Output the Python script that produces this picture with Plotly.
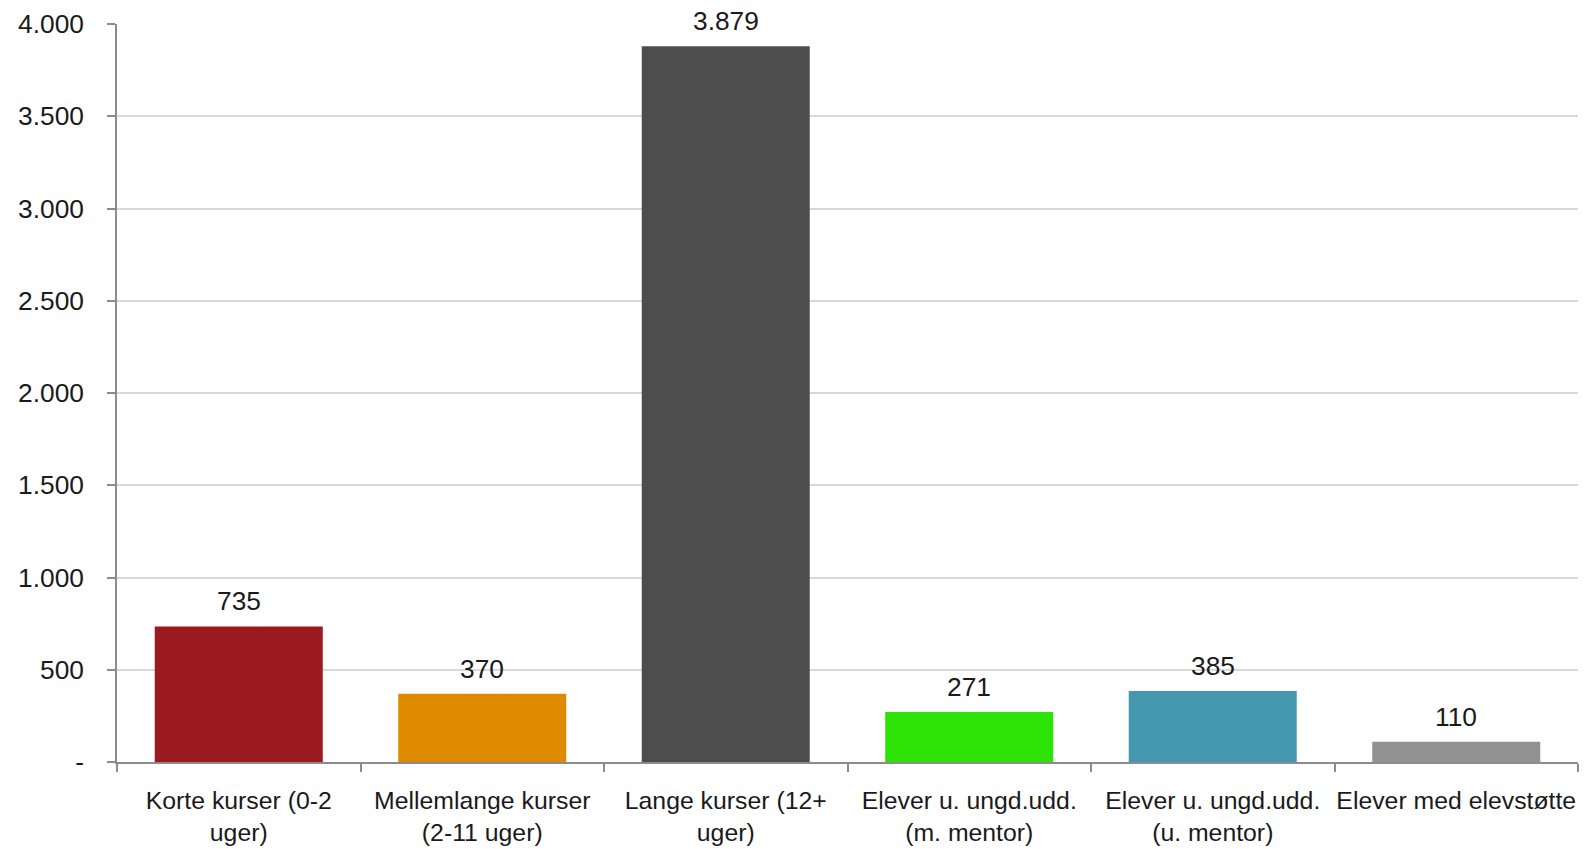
import plotly.graph_objects as go

categories = [
    "Korte kurser (0-2<br>uger)",
    "Mellemlange kurser<br>(2-11 uger)",
    "Lange kurser (12+<br>uger)",
    "Elever u. ungd.udd.<br>(m. mentor)",
    "Elever u. ungd.udd.<br>(u. mentor)",
    "Elever med elevstøtte",
]
values = [735, 370, 3879, 271, 385, 110]
labels = ["735", "370", "3.879", "271", "385", "110"]
colors = ["#9B1A20", "#E08A00", "#4D4D4D", "#2DE305", "#4398B0", "#929292"]
y_tickvals = [0, 500, 1000, 1500, 2000, 2500, 3000, 3500, 4000]
y_ticktext = ["-", "500", "1.000", "1.500", "2.000", "2.500", "3.000", "3.500", "4.000"]

K = 1.0127  # compensates the capture scaling
font_family = "Liberation Sans, Arial, sans-serif"
txt_color = "#1a1a1a"

fig = go.Figure(
    go.Bar(
        x=categories,
        y=values,
        marker=dict(color=colors, line=dict(width=0)),
        hoverinfo="x+y",
    )
)

for c, v, lab in zip(categories, values, labels):
    fig.add_annotation(
        x=c, y=v, text=lab, showarrow=False,
        yanchor="bottom", yshift=8 * K,
        font=dict(size=26 * K, color=txt_color, family=font_family),
    )

fig.update_layout(
    width=round(1588 * K),
    height=round(849 * K),
    margin=dict(l=116 * K, r=30 * K, t=24 * K, b=97 * K, autoexpand=False),
    paper_bgcolor="white",
    plot_bgcolor="white",
    separators=",.",
    bargap=0.31,
    showlegend=False,
    font=dict(family=font_family, size=25 * K, color=txt_color),
)

fig.update_yaxes(
    range=[0, 4000],
    tickvals=y_tickvals,
    ticktext=y_ticktext,
    automargin=False,
    showgrid=True,
    gridcolor="#D9D9D9",
    gridwidth=1.5,
    showline=True,
    linecolor="#8C8C8C",
    linewidth=1.5,
    ticks="outside",
    ticklen=8,
    tickcolor="#8C8C8C",
    tickwidth=1.5,
    ticklabelstandoff=18,
    tickfont=dict(size=26 * K, color=txt_color),
    zeroline=False,
)

fig.update_xaxes(
    automargin=False,
    tickangle=0,
    showline=True,
    linecolor="#8C8C8C",
    linewidth=2,
    ticks="outside",
    tickson="boundaries",
    ticklen=8,
    tickcolor="#8C8C8C",
    tickwidth=1.5,
    ticklabelstandoff=15,
    tickfont=dict(size=24.5 * K, color=txt_color),
    showgrid=False,
)

post = "document.documentElement.style.margin='0';document.body.style.margin='0';"

fig.write_html(
    "out.html",
    config={"displayModeBar": False},
    post_script=post,
)
